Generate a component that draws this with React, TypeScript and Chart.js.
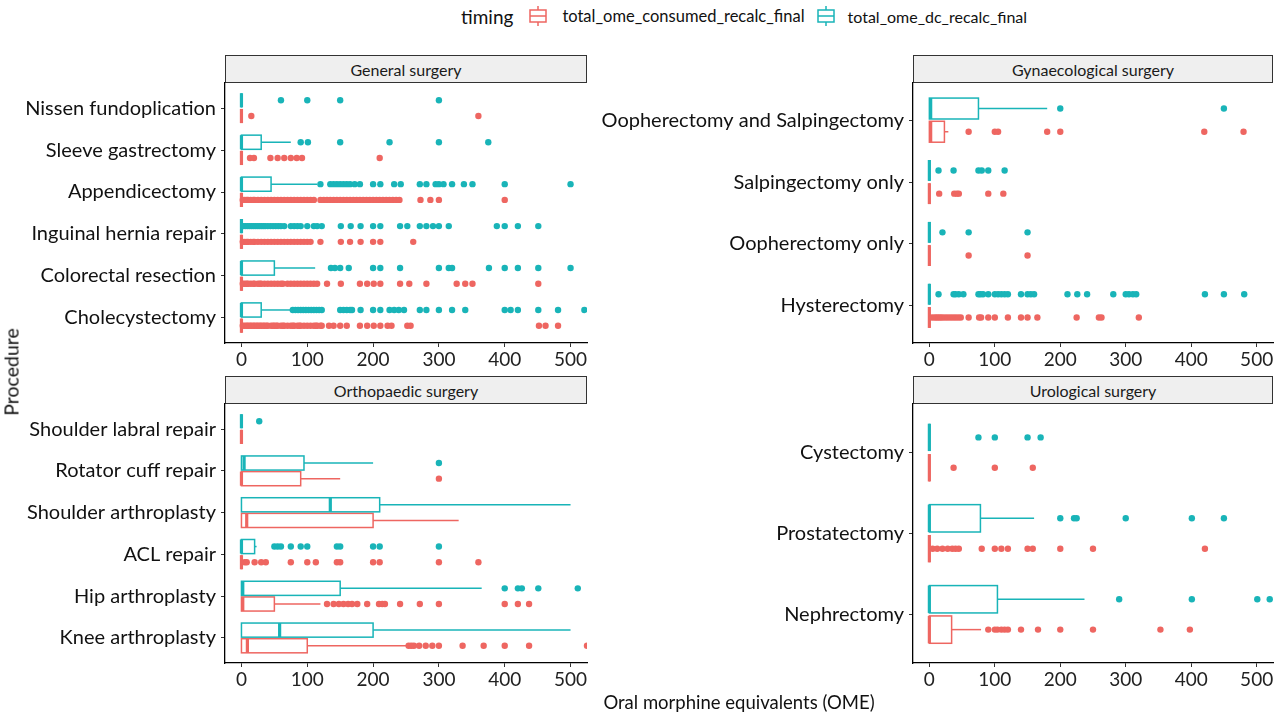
import React, { useEffect, useRef } from "react";
import { Chart, registerables } from "chart.js";

Chart.register(...registerables);

const RED = "#EE6661";
const TEAL = "#19B4B8";
const FONT = "Lato, 'Noto Sans', sans-serif";

const X_MIN = -25;
const X_MAX = 525;
const xTickValues = [0, 100, 200, 300, 400, 500];

// ---------- General surgery (bottom -> top) ----------
const generalCats = [
  "Cholecystectomy",
  "Colorectal resection",
  "Inguinal hernia repair",
  "Appendicectomy",
  "Sleeve gastrectomy",
  "Nissen fundoplication",
];
// [lowerWhisker, q1, median, q3, upperWhisker]
const generalConsumedStats = [
  [0, 0, 0, 0, 0],
  [0, 0, 0, 0, 0],
  [0, 0, 0, 0, 0],
  [0, 0, 0, 0, 0],
  [0, 0, 0, 0, 0],
  [0, 0, 0, 0, 0],
];
const generalDcStats = [
  [0, 0, 0, 30, 75],
  [0, 0, 0, 50, 112],
  [0, 0, 0, 0, 0],
  [0, 0, 0, 45, 115],
  [0, 0, 0, 30, 75],
  [0, 0, 0, 0, 0],
];
const generalConsumedOut = [
  [2, 5, 8, 10, 13, 15, 18, 20, 23, 25, 28, 30, 33, 35, 38, 40, 45, 48, 50, 53, 55, 60, 63, 65, 70, 75, 78, 80, 85, 88, 90, 95, 100, 105, 110, 113, 115, 120, 122, 133, 140, 150, 160, 180, 191, 201, 211, 222, 228, 252, 257, 452, 462, 481],
  [2, 5, 8, 10, 14, 18, 20, 25, 28, 30, 35, 40, 45, 50, 55, 60, 63, 70, 75, 80, 85, 90, 95, 100, 105, 110, 115, 130, 151, 180, 191, 201, 211, 241, 255, 281, 327, 340, 351, 451],
  [2, 5, 8, 10, 14, 18, 20, 25, 30, 35, 40, 45, 50, 55, 60, 65, 70, 75, 80, 85, 90, 95, 100, 105, 120, 151, 165, 181, 200, 211, 261],
  [2, 5, 8, 10, 14, 18, 20, 25, 30, 35, 40, 45, 50, 55, 60, 65, 70, 75, 80, 85, 90, 95, 100, 105, 110, 120, 125, 130, 135, 140, 145, 150, 155, 160, 165, 170, 175, 180, 185, 190, 195, 200, 205, 210, 215, 220, 225, 230, 235, 240, 272, 287, 300, 400],
  [13, 19, 44, 55, 65, 75, 84, 92, 210],
  [15, 360],
];
const generalDcOut = [
  [78, 82, 86, 90, 94, 98, 102, 106, 110, 114, 118, 122, 150, 155, 160, 165, 168, 181, 200, 211, 225, 232, 239, 247, 271, 281, 300, 320, 340, 400, 409, 420, 451, 481, 521],
  [136, 142, 150, 163, 200, 211, 241, 300, 315, 320, 376, 400, 420, 451, 500],
  [3, 6, 9, 12, 15, 18, 21, 24, 27, 30, 33, 36, 40, 44, 48, 52, 56, 60, 65, 75, 80, 85, 90, 100, 110, 115, 122, 151, 166, 181, 200, 211, 241, 252, 271, 281, 291, 300, 315, 388, 400, 420, 451],
  [120, 135, 140, 145, 150, 155, 160, 165, 172, 180, 200, 211, 232, 242, 271, 281, 295, 300, 307, 320, 338, 351, 400, 500],
  [90, 101, 150, 225, 300, 375],
  [60, 100, 150, 300],
];

// ---------- Gynaecological surgery ----------
const gynCats = [
  "Hysterectomy",
  "Oopherectomy only",
  "Salpingectomy only",
  "Oopherectomy and Salpingectomy",
];
const gynConsumedStats = [
  [0, 0, 0, 0, 0],
  [0, 0, 0, 0, 0],
  [0, 0, 0, 0, 0],
  [0, 0, 2, 23, 29],
];
const gynDcStats = [
  [0, 0, 0, 0, 0],
  [0, 0, 0, 0, 0],
  [0, 0, 0, 0, 0],
  [0, 0, 2, 75, 180],
];
const gynConsumedOut = [
  [4, 8, 11, 14, 17, 20, 24, 28, 32, 36, 40, 44, 48, 60, 76, 79, 90, 100, 120, 140, 150, 165, 225, 259, 263, 320],
  [60, 150],
  [15, 38, 42, 45, 90, 113],
  [60, 100, 105, 180, 200, 420, 480],
];
const gynDcOut = [
  [14, 37, 40, 45, 52, 75, 78, 82, 90, 100, 105, 110, 115, 120, 140, 150, 155, 160, 211, 226, 241, 281, 300, 305, 311, 316, 421, 450, 481],
  [20, 60, 150],
  [14, 37, 75, 80, 90, 115],
  [200, 450],
];

// ---------- Orthopaedic surgery ----------
const orthoCats = [
  "Knee arthroplasty",
  "Hip arthroplasty",
  "ACL repair",
  "Shoulder arthroplasty",
  "Rotator cuff repair",
  "Shoulder labral repair",
];
const orthoConsumedStats = [
  [0, 0, 9, 100, 252],
  [0, 0, 2, 50, 120],
  [0, 0, 0, 0, 0],
  [0, 0, 8, 200, 330],
  [0, 0, 0, 90, 150],
  [0, 0, 0, 0, 0],
];
const orthoDcStats = [
  [0, 0, 58, 200, 500],
  [0, 0, 2, 150, 365],
  [0, 0, 0, 20, 23],
  [0, 0, 135, 210, 500],
  [0, 0, 4, 95, 200],
  [0, 0, 0, 0, 0],
];
const orthoConsumedOut = [
  [254, 258, 262, 270, 280, 290, 300, 336, 368, 400, 437, 525],
  [130, 140, 148, 155, 162, 168, 176, 191, 209, 214, 218, 241, 271, 300, 400, 420, 437],
  [5, 8, 20, 30, 37, 75, 100, 113, 145, 150, 200, 210, 300, 360],
  [],
  [300],
  [],
];
const orthoDcOut = [
  [],
  [400, 420, 426, 451, 511],
  [50, 55, 60, 75, 90, 100, 145, 150, 200, 210, 300],
  [],
  [300],
  [27],
];

// ---------- Urological surgery ----------
const uroCats = ["Nephrectomy", "Prostatectomy", "Cystectomy"];
const uroConsumedStats = [
  [0, 0, 0, 34, 79],
  [0, 0, 0, 0, 0],
  [0, 0, 0, 0, 0],
];
const uroDcStats = [
  [0, 0, 0, 104, 237],
  [0, 0, 0, 78, 160],
  [0, 0, 0, 0, 0],
];
const uroConsumedOut = [
  [90, 100, 104, 110, 115, 120, 140, 166, 200, 250, 353, 398],
  [5, 12, 20, 28, 35, 40, 45, 80, 100, 110, 120, 150, 158, 200, 250, 421],
  [37, 100, 158],
];
const uroDcOut = [
  [290, 401, 501, 520],
  [200, 221, 225, 300, 401, 450],
  [75, 100, 150, 170],
];

type Panel = {
  title: string;
  cats: string[];
  consumedStats: number[][];
  dcStats: number[][];
  consumedOut: number[][];
  dcOut: number[][];
  left: number;
  top: number;
  right: number;
  bottom: number;
  axisW: number;
};

const panels: Panel[] = [
  { title: "General surgery", cats: generalCats, consumedStats: generalConsumedStats, dcStats: generalDcStats, consumedOut: generalConsumedOut, dcOut: generalDcOut, left: 225, top: 83, right: 587, bottom: 343, axisW: 225 },
  { title: "Gynaecological surgery", cats: gynCats, consumedStats: gynConsumedStats, dcStats: gynDcStats, consumedOut: gynConsumedOut, dcOut: gynDcOut, left: 913, top: 83, right: 1273, bottom: 343, axisW: 330 },
  { title: "Orthopaedic surgery", cats: orthoCats, consumedStats: orthoConsumedStats, dcStats: orthoDcStats, consumedOut: orthoConsumedOut, dcOut: orthoDcOut, left: 225, top: 404, right: 587, bottom: 663, axisW: 225 },
  { title: "Urological surgery", cats: uroCats, consumedStats: uroConsumedStats, dcStats: uroDcStats, consumedOut: uroConsumedOut, dcOut: uroDcOut, left: 913, top: 404, right: 1273, bottom: 663, axisW: 330 },
];

const DODGE = 0.1875;
const HALF = 0.169;
const PAD_TOP = 20;
const PAD_RIGHT = 20;
const X_AXIS_H = 40;
const STRIP_H = 28;

function PanelChart({ p }: { p: Panel }) {
  const ref = useRef<HTMLCanvasElement>(null);
  const w = p.right - p.left + p.axisW + PAD_RIGHT;
  const h = p.bottom - p.top + PAD_TOP + X_AXIS_H;

  useEffect(() => {
    if (!ref.current) return;
    const toPts = (outs: number[][], off: number) =>
      outs.flatMap((arr, i) => arr.map((v) => ({ x: v, y: i + 1 + off })));

    const boxPlugin = {
      id: "boxes",
      beforeDatasetsDraw(chart: any) {
        const { ctx, chartArea } = chart;
        const xs = chart.scales.x;
        const ys = chart.scales.y;
        ctx.save();
        ctx.beginPath();
        ctx.rect(chartArea.left, chartArea.top, chartArea.right - chartArea.left, chartArea.bottom - chartArea.top);
        ctx.clip();
        const series: [number[][], number, string][] = [
          [p.consumedStats, -DODGE, RED],
          [p.dcStats, DODGE, TEAL],
        ];
        for (const [stats, off, col] of series) {
          stats.forEach((s, i) => {
            const [lo, q1, med, q3, hi] = s;
            const c = i + 1 + off;
            const yc = ys.getPixelForValue(c);
            const yt = ys.getPixelForValue(c + HALF);
            const yb = ys.getPixelForValue(c - HALF);
            const px = (v: number) => xs.getPixelForValue(v);
            ctx.strokeStyle = col;
            ctx.lineWidth = 1.5;
            ctx.beginPath();
            ctx.moveTo(px(q3), yc);
            ctx.lineTo(px(hi), yc);
            ctx.moveTo(px(lo), yc);
            ctx.lineTo(px(q1), yc);
            ctx.stroke();
            ctx.fillStyle = "#ffffff";
            ctx.fillRect(px(q1), yt, px(q3) - px(q1), yb - yt);
            ctx.strokeRect(px(q1), yt, px(q3) - px(q1), yb - yt);
            ctx.lineWidth = 3.2;
            ctx.beginPath();
            ctx.moveTo(px(med), yt);
            ctx.lineTo(px(med), yb);
            ctx.stroke();
          });
        }
        ctx.restore();
      },
    };

    const chart = new Chart(ref.current, {
      type: "scatter",
      data: {
        datasets: [
          { data: toPts(p.consumedOut, -DODGE), backgroundColor: RED, borderWidth: 0, pointRadius: 3.2, pointHoverRadius: 3.2 },
          { data: toPts(p.dcOut, DODGE), backgroundColor: TEAL, borderWidth: 0, pointRadius: 3.2, pointHoverRadius: 3.2 },
        ],
      },
      options: {
        animation: false,
        responsive: false,
        events: [],
        layout: { padding: { top: PAD_TOP, right: PAD_RIGHT, left: 0, bottom: 0 } },
        plugins: { legend: { display: false }, tooltip: { enabled: false } },
        scales: {
          x: {
            type: "linear",
            min: X_MIN,
            max: X_MAX,
            afterBuildTicks: (s: any) => {
              s.ticks = xTickValues.map((v) => ({ value: v }));
            },
            afterFit: (s: any) => {
              s.height = X_AXIS_H;
            },
            grid: { drawOnChartArea: false, tickLength: 4, color: "#333333", lineWidth: 1 },
            border: { display: true, color: "#000000", width: 1.3 },
            ticks: { color: "#222222", font: { family: FONT, size: 19 }, padding: 1, maxRotation: 0, autoSkip: false },
          },
          y: {
            type: "linear",
            min: 0.4,
            max: p.cats.length + 0.6,
            afterBuildTicks: (s: any) => {
              s.ticks = p.cats.map((_, i) => ({ value: i + 1 }));
            },
            afterFit: (s: any) => {
              s.width = p.axisW;
            },
            grid: { drawOnChartArea: false, tickLength: 4, color: "#333333", lineWidth: 1 },
            border: { display: true, color: "#000000", width: 1.3 },
            ticks: {
              color: "#111111",
              font: { family: FONT, size: 20 },
              padding: 5,
              autoSkip: false,
              callback: (v: any) => p.cats[Math.round(Number(v)) - 1] ?? "",
            },
          },
        },
      } as any,
      plugins: [boxPlugin],
    });
    return () => chart.destroy();
  }, []);

  return (
    <>
      <div
        style={{
          position: "absolute",
          left: p.left,
          top: p.top - STRIP_H,
          width: p.right - p.left - 2,
          height: STRIP_H - 2,
          background: "#EFEFEF",
          border: "1px solid #333333",
          display: "flex",
          alignItems: "center",
          justifyContent: "center",
          fontFamily: FONT,
          fontSize: 16,
          color: "#1a1a1a",
        }}
      >
        {p.title}
      </div>
      <canvas
        ref={ref}
        width={w}
        height={h}
        style={{ position: "absolute", left: p.left - p.axisW, top: p.top - PAD_TOP, width: w, height: h }}
      />
    </>
  );
}

function LegendKey({ color }: { color: string }) {
  return (
    <svg width="20" height="20" viewBox="0 0 20 20" style={{ display: "block" }}>
      <line x1="10" y1="0" x2="10" y2="4" stroke={color} strokeWidth="1.5" />
      <line x1="10" y1="16" x2="10" y2="20" stroke={color} strokeWidth="1.5" />
      <rect x="2" y="4" width="16" height="12" fill="#fff" stroke={color} strokeWidth="1.5" />
      <line x1="2" y1="10" x2="18" y2="10" stroke={color} strokeWidth="1.5" />
    </svg>
  );
}

export default function App() {
  return (
    <div style={{ position: "absolute", left: 0, top: 0, width: 1280, height: 714, background: "#ffffff", overflow: "hidden", fontFamily: FONT }}>
      {/* Legend */}
      <div style={{ position: "absolute", left: 461, top: 4, height: 24, display: "flex", alignItems: "center", color: "#111" }}>
        <span style={{ fontSize: 19, marginRight: 15 }}>timing</span>
        <LegendKey color={RED} />
        <span style={{ fontSize: 16.5, marginLeft: 14, marginRight: 11 }}>total_ome_consumed_recalc_final</span>
        <LegendKey color={TEAL} />
        <span style={{ fontSize: 16, marginLeft: 12 }}>total_ome_dc_recalc_final</span>
      </div>

      {panels.map((p) => (
        <PanelChart key={p.title} p={p} />
      ))}

      {/* Axis titles */}
      <div style={{ position: "absolute", left: 0, width: 1480, top: 690, textAlign: "center", fontSize: 18.5, color: "#111", lineHeight: "24px" }}>
        <span style={{ position: "absolute", left: 739, transform: "translateX(-50%)", whiteSpace: "nowrap" }}>Oral morphine equivalents (OME)</span>
      </div>
      <div
        style={{
          position: "absolute",
          left: 11,
          top: 372,
          transform: "translate(-50%, -50%) rotate(-90deg)",
          fontSize: 19.5,
          color: "#111",
          whiteSpace: "nowrap",
        }}
      >
        Procedure
      </div>
    </div>
  );
}
